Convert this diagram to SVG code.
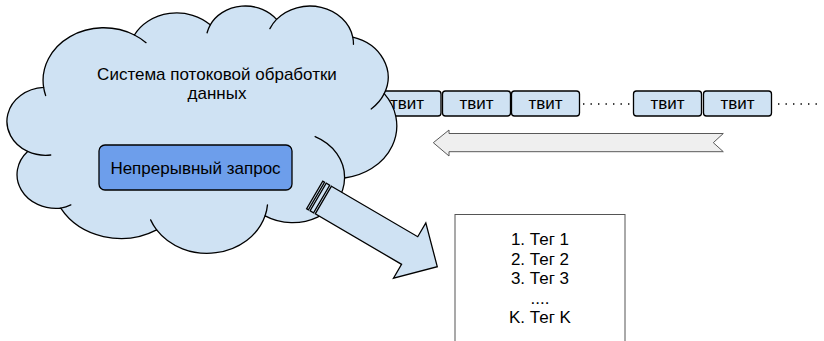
<svg xmlns="http://www.w3.org/2000/svg" width="824" height="341" viewBox="0 0 824 341">
<defs>
<style>
.t{font-family:"Liberation Sans",Arial,sans-serif;font-size:17px;fill:#000;text-anchor:middle}
.tw{fill:#cfe2f3;stroke:#000;stroke-width:1.3}
.ol{fill:none;stroke:#000;stroke-width:1.3;stroke-linecap:round}
.dot{fill:none;stroke:#000;stroke-width:1.4;stroke-dasharray:1.4 6.1}
</style>
</defs>
<rect width="824" height="341" fill="#fff"/>
<g id="tweets">
<g id="tweet1"><rect class="tw" x="373" y="91" width="68" height="25" rx="3"/><text class="t" x="407" y="108.5">твит</text></g>
<g id="tweet2"><rect class="tw" x="442.5" y="91" width="68" height="25" rx="3"/><text class="t" x="476.5" y="108.5">твит</text></g>
<g id="tweet3"><rect class="tw" x="511.5" y="91" width="68" height="25" rx="3"/><text class="t" x="545.5" y="108.5">твит</text></g>
<g id="tweet4"><rect class="tw" x="633.5" y="91" width="68" height="25" rx="3"/><text class="t" x="667.5" y="108.5">твит</text></g>
<g id="tweet5"><rect class="tw" x="703.5" y="91" width="68" height="25" rx="3"/><text class="t" x="737.5" y="108.5">твит</text></g>
</g>
<g id="cloud">
<path d="M 43.63 87.42 A 60.65 52.59 0 0 1 134.40 34.97 A 47.90 41.58 0 0 1 210.30 24.83 A 39.20 34.02 0 0 1 276.56 19.38 A 43.62 37.74 0 0 1 352.77 37.09 A 47.90 41.62 0 0 1 384.21 93.65 A 60.85 52.76 0 0 1 344.56 178.01 A 51.96 45.01 0 0 1 265.09 215.83 A 60.64 52.73 0 0 1 156.64 229.87 A 69.34 60.33 0 0 1 60.75 208.16 A 39.16 33.86 0 0 1 27.59 151.40 A 39.02 34.02 0 0 1 43.63 87.42 Z" fill="#cfe2f3" stroke="#000" stroke-width="1.3" stroke-linejoin="round"/>
<path class="ol" d="M 50.75 154.98 A 39.02 34.02 0 0 1 27.59 151.40 M 70.82 204.89 A 39.16 33.86 0 0 1 60.75 208.16 M 156.64 229.87 A 60.64 52.73 0 0 1 150.63 219.89 M 267.48 204.91 A 60.64 52.73 0 0 1 265.09 215.83 M 315.13 136.54 A 51.96 45.01 0 0 1 344.56 178.01 M 384.21 93.65 A 47.90 41.62 0 0 1 371.19 108.96 M 352.77 37.09 A 43.62 37.74 0 0 1 353.45 44.32 M 269.90 28.59 A 43.62 37.74 0 0 1 276.56 19.38 M 207.08 32.77 A 39.20 34.02 0 0 1 210.30 24.83 M 134.40 34.97 A 60.65 52.59 0 0 1 146.05 42.67 M 45.66 95.54 A 60.65 52.59 0 0 1 43.63 87.42"/>
<text class="t" x="217" y="80">Система потоковой обработки</text>
<text class="t" x="217" y="99">данных</text>
</g>
<g id="query">
<rect x="99" y="145" width="193" height="45" rx="6" fill="#6d9eeb" stroke="#000" stroke-width="1.3"/>
<text class="t" x="195.5" y="173.5">Непрерывный запрос</text>
</g>
<g id="connectors">
<path class="dot" d="M 583 104 H 632 M 778 104 H 823"/>
<path id="stream-arrow" d="M 433.3 142.7 L 449 130 L 449 133.5 L 723.3 133.5 L 713.3 142.7 L 723.3 151.7 L 449 151.7 L 449 156 Z" fill="#efefef" stroke="#595959" stroke-width="1"/>
<g id="result-arrow" transform="translate(314.72,194.95) rotate(30.34)" fill="#cfe2f3" stroke="#000" stroke-width="1.3" stroke-linejoin="miter">
<rect x="0" y="-16" width="2" height="32"/>
<rect x="4" y="-16" width="4" height="32"/>
<path d="M 10 -16 L 110 -16 L 110 -32 L 142 0 L 110 32 L 110 16 L 10 16 Z"/>
</g>
</g>
<g id="result">
<rect x="455" y="214.5" width="170" height="140" fill="#fff" stroke="#555" stroke-width="1"/>
<text class="t" x="540" y="245">1. Тег 1</text>
<text class="t" x="540" y="264.5">2. Тег 2</text>
<text class="t" x="540" y="284">3. Тег 3</text>
<text class="t" x="540" y="303.5">....</text>
<text class="t" x="540" y="323">K. Тег K</text>
</g>
</svg>
